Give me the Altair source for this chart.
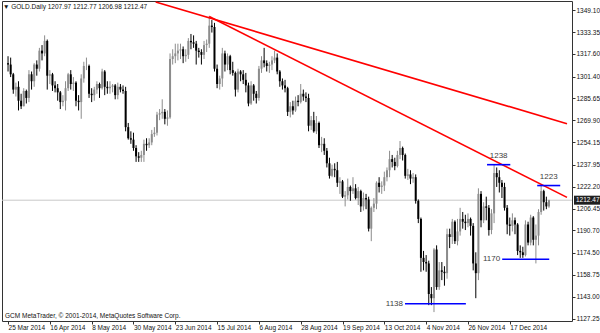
import json
import altair as alt
import pandas as pd

# ---------------- data ----------------
opens = [1311,1310,1303,1292,1294,1284,1280,1291,1286,1303,1298,1310,1307,1320,1318,1327,1302,1303,1295,1293,
         1290,1283,1284,1293,1303,1296,1297,1284,1283,1300,1309,1309,1289,1288,1292,1296,1293,1305,1294,1293,
         1294,1295,1288,1294,1292,1291,1265,1257,1256,1250,1244,1243,1245,1253,1252,1254,1260,1261,1274,1275,
         1276,1271,1272,1314,1316,1318,1320,1321,1316,1317,1327,1326,1325,1320,1319,1317,1324,1325,1338,1337,
         1307,1296,1300,1318,1310,1316,1306,1304,1292,1305,1303,1299,1295,1282,1295,1289,1286,1307,1313,1311,
         1309,1310,1313,1315,1305,1298,1295,1293,1276,1280,1277,1284,1283,1289,1287,1286,1266,1270,1262,1268,
         1252,1253,1248,1239,1230,1235,1234,1225,1226,1215,1216,1222,1219,1221,1214,1219,1208,1214,1213,1192,
         1207,1210,1225,1222,1223,1229,1234,1242,1240,1237,1245,1250,1245,1230,1231,1228,1229,1212,1199,1171,
         1168,1167,1145,1142,1177,1150,1162,1161,1160,1188,1186,1197,1183,1190,1199,1197,1196,1199,1194,1167,
         1160,1217,1198,1208,1207,1191,1203,1232,1229,1225,1222,1207,1195,1194,1198,1195,1176,1175,1173,1195,
         1182,1200,1184,1187,1204,1219,1211,1207.97]
highs = [1316,1315,1304,1297,1298,1289,1293,1292,1306,1305,1311,1313,1322,1324,1331,1328,1306,1304,1298,1296,
         1291,1288,1298,1304,1306,1301,1298,1288,1303,1312,1315,1310,1293,1294,1298,1297,1307,1306,1298,1298,
         1296,1296,1297,1296,1295,1294,1268,1262,1261,1252,1247,1248,1256,1257,1257,1263,1265,1276,1278,1285,
         1278,1277,1318,1321,1325,1325,1325,1323,1321,1329,1332,1331,1327,1322,1321,1327,1328,1345,1342,1340,
         1310,1302,1322,1320,1318,1317,1312,1305,1307,1306,1306,1304,1297,1298,1296,1291,1309,1316,1322,1313,
         1312,1316,1320,1318,1306,1300,1299,1294,1283,1284,1287,1288,1296,1292,1290,1289,1273,1276,1273,1269,
         1258,1257,1250,1243,1238,1239,1240,1229,1227,1219,1228,1223,1229,1224,1222,1220,1218,1217,1215,1208,
         1214,1226,1229,1226,1233,1236,1248,1245,1243,1248,1255,1251,1246,1235,1234,1232,1231,1213,1200,1176,
         1173,1169,1150,1178,1180,1168,1168,1165,1192,1192,1199,1198,1199,1207,1204,1202,1203,1200,1196,1175,
         1221,1219,1211,1215,1209,1206,1238,1236,1234,1227,1225,1209,1200,1203,1200,1196,1180,1179,1198,1197,
         1202,1201,1195,1206,1223,1220,1215,1212.77]
lows = [1305,1301,1289,1287,1277,1278,1280,1282,1283,1292,1294,1302,1305,1313,1316,1292,1296,1291,1290,1284,
        1278,1280,1277,1291,1292,1291,1280,1277,1271,1297,1306,1286,1283,1284,1289,1286,1292,1288,1289,1289,
        1290,1285,1285,1290,1289,1262,1256,1253,1248,1240,1240,1240,1240,1248,1250,1252,1258,1259,1270,1271,
        1267,1266,1271,1310,1311,1313,1314,1311,1312,1314,1321,1322,1310,1315,1310,1314,1319,1322,1333,1305,
        1293,1292,1294,1305,1306,1303,1302,1287,1290,1298,1296,1290,1280,1281,1284,1282,1284,1304,1308,1305,
        1304,1306,1311,1303,1294,1292,1290,1273,1272,1274,1276,1280,1282,1284,1283,1262,1263,1261,1260,1250,
        1247,1245,1236,1228,1229,1229,1222,1217,1214,1208,1213,1212,1217,1213,1209,1204,1205,1206,1190,1183,
        1204,1206,1218,1217,1219,1226,1229,1236,1234,1236,1242,1241,1228,1227,1224,1225,1210,1196,1161,1162,
        1161,1137,1137,1132,1148,1148,1155,1151,1156,1178,1181,1181,1180,1187,1192,1191,1193,1187,1162,1142,
        1155,1193,1196,1198,1187,1188,1196,1222,1218,1214,1205,1188,1187,1190,1188,1173,1171,1171,1172,1180,
        1180,1180,1167,1180,1202,1205,1206,1206.98]
closes = [1310,1303,1292,1294,1284,1280,1291,1286,1303,1298,1310,1307,1320,1318,1327,1302,1303,1295,1293,1290,
          1283,1284,1293,1303,1296,1297,1284,1283,1300,1309,1309,1289,1288,1292,1296,1293,1305,1294,1293,1294,
          1295,1288,1294,1292,1291,1265,1257,1256,1250,1244,1243,1245,1253,1252,1254,1260,1261,1274,1275,1276,
          1271,1272,1314,1316,1318,1320,1321,1316,1317,1327,1326,1325,1320,1319,1317,1324,1325,1338,1337,1307,
          1296,1300,1318,1310,1316,1306,1304,1292,1305,1303,1299,1295,1282,1295,1289,1286,1307,1313,1311,1309,
          1310,1313,1315,1305,1298,1295,1293,1276,1280,1277,1284,1283,1289,1287,1286,1266,1270,1262,1268,1252,
          1253,1248,1239,1230,1235,1234,1225,1226,1215,1216,1222,1219,1221,1214,1219,1208,1214,1213,1192,1207,
          1210,1225,1222,1223,1229,1234,1242,1240,1237,1245,1250,1245,1230,1231,1228,1229,1212,1199,1171,1168,
          1167,1145,1142,1177,1150,1162,1161,1160,1188,1186,1197,1183,1190,1199,1197,1196,1199,1194,1167,1160,
          1217,1198,1208,1207,1191,1203,1232,1229,1225,1222,1207,1195,1194,1198,1195,1176,1175,1173,1195,1182,
          1200,1184,1187,1204,1219,1211,1208,1212.47]

tick_bars = [0, 16, 32, 48, 64, 80, 96, 112, 128, 144, 160, 176, 192]
tick_labels = ["25 Mar 2014", "16 Apr 2014", "8 May 2014", "30 May 2014", "23 Jun 2014", "15 Jul 2014",
               "6 Aug 2014", "28 Aug 2014", "19 Sep 2014", "13 Oct 2014", "4 Nov 2014", "26 Nov 2014",
               "17 Dec 2014"]
price_ticks = [1349.10, 1333.35, 1317.60, 1301.40, 1285.65, 1269.90, 1254.15, 1237.95,
               1222.20, 1206.45, 1190.70, 1174.50, 1158.75, 1143.00, 1127.25]

# trend lines (bar index, price)
trend_x0 = [56.5, 77.0]
trend_p0 = [1355.0, 1344.5]
trend_x1 = [213.9, 213.9]
trend_p1 = [1267.5, 1214.5]

# horizontal levels
level_values = [1238, 1223, 1170, 1138]
level_x0 = [183.3, 202.5, 189.1, 151.9]
level_x1 = [192.2, 211.3, 207.1, 175.2]
level_label_side = ["top", "top", "left", "left"]

symbol = "GOLD.Daily"
copyright_text = "GCM MetaTrader, © 2001-2014, MetaQuotes Software Corp."

# ---------------- frames ----------------
n = len(closes)
df = pd.DataFrame({"i": list(range(n)), "open": opens, "high": highs, "low": lows, "close": closes})
df["dir"] = ["up" if c >= o else "down" for o, c in zip(opens, closes)]

trend_df = pd.DataFrame({"x0": trend_x0, "p0": trend_p0, "x1": trend_x1, "p1": trend_p1})
lev_df = pd.DataFrame({"v": level_values, "x0": level_x0, "x1": level_x1, "side": level_label_side})
lev_df["xm"] = (lev_df["x0"] + lev_df["x1"]) / 2
lev_df["txt"] = lev_df["v"].astype(str)

last = df.iloc[-1]
bid_df = pd.DataFrame({"p": [last["close"]], "txt": [f"{last['close']:.2f}"]})
title_df = pd.DataFrame({"txt": [f"▼ {symbol}  {last['open']:.2f} {last['high']:.2f} {last['low']:.2f} {last['close']:.2f}"]})
copy_df = pd.DataFrame({"txt": [copyright_text]})

FONT = "Liberation Sans"
xs = alt.Scale(domain=[-0.4, 213.9], nice=False, zero=False)
ys = alt.Scale(domain=[1125.6, 1355.7], nice=False, zero=False)
col = alt.Color("dir:N", scale=alt.Scale(domain=["up", "down"], range=["#8c8c8c", "#000000"]), legend=None)

label_expr = json.dumps(tick_labels) + "[round(datum.value / 16)]"

XA = alt.Axis(values=tick_bars, labelExpr=label_expr, labelAlign="left", labelPadding=0,
              tickSize=3, tickColor="#333333", domain=False, grid=False, title=None, labelFont=FONT,
              labelFontSize=6.5, labelColor="#111111", labelOverlap=False, labelFlush=False)
YA = alt.Axis(orient="right", values=price_ticks, format=".2f", tickSize=3, tickColor="#333333",
              domain=False, grid=False, title=None, labelFont=FONT, labelFontSize=6.5,
              labelColor="#111111", labelPadding=1, labelOverlap=False, labelFlush=False)


def X(field):
    return alt.X(field, type="quantitative", scale=xs, axis=XA)


def Y(field):
    return alt.Y(field, type="quantitative", scale=ys, axis=YA)


bid_line = alt.Chart(bid_df).mark_rule(color="#c8c8c8", strokeWidth=1).encode(y=Y("p"))

wicks = alt.Chart(df).mark_rule(strokeWidth=1, clip=True).encode(
    x=X("i"), y=Y("low"), y2="high:Q", color=col)

bodies = alt.Chart(df).mark_bar(size=2, clip=True).encode(
    x=X("i"), y=Y("open"), y2="close:Q", color=col)

trends = alt.Chart(trend_df).mark_rule(color="#ff0000", strokeWidth=1.6, clip=True).encode(
    x=X("x0"), x2="x1:Q", y=Y("p0"), y2="p1:Q")

levels = alt.Chart(lev_df).mark_rule(color="#0000ff", strokeWidth=1.6, clip=True).encode(
    x=X("x0"), x2="x1:Q", y=Y("v"))

lev_top = alt.Chart(lev_df).transform_filter(alt.datum.side == "top").mark_text(
    font=FONT, fontSize=8, color="#404040", align="center", baseline="middle", dy=-9).encode(
    x=X("xm"), y=Y("v"), text="txt:N")

lev_left = alt.Chart(lev_df).transform_filter(alt.datum.side == "left").mark_text(
    font=FONT, fontSize=8, color="#404040", align="right", baseline="middle", dx=-2).encode(
    x=X("x0"), y=Y("v"), text="txt:N")

bid_box = alt.Chart(bid_df).mark_rule(color="#202020", strokeWidth=9).encode(
    x=alt.value(572), x2=alt.value(600), y=Y("p"))
bid_text = alt.Chart(bid_df).mark_text(font=FONT, fontSize=6.5, color="#ffffff", align="left",
                                       baseline="middle").encode(
    x=alt.value(574), y=Y("p"), text="txt:N")

title = alt.Chart(title_df).mark_text(font=FONT, fontSize=6.5, color="#111111", align="left",
                                      baseline="middle").encode(
    x=alt.value(1), y=alt.value(6), text="txt:N")
copyright_mark = alt.Chart(copy_df).mark_text(font=FONT, fontSize=6.5, color="#111111", align="left",
                                              baseline="middle").encode(
    x=alt.value(3), y=alt.value(315), text="txt:N")

chart = alt.layer(bid_line, wicks, bodies, trends, levels, lev_top, lev_left, bid_box, bid_text,
                  title, copyright_mark).properties(
    width=570, height=320,
    padding={"left": 2, "top": 1, "right": 28, "bottom": 12},
    autosize="none",
    background="#ffffff",
).configure_view(stroke="#333333", strokeWidth=1)

chart.save("out.html", embed_options={"renderer": "svg", "actions": False})
